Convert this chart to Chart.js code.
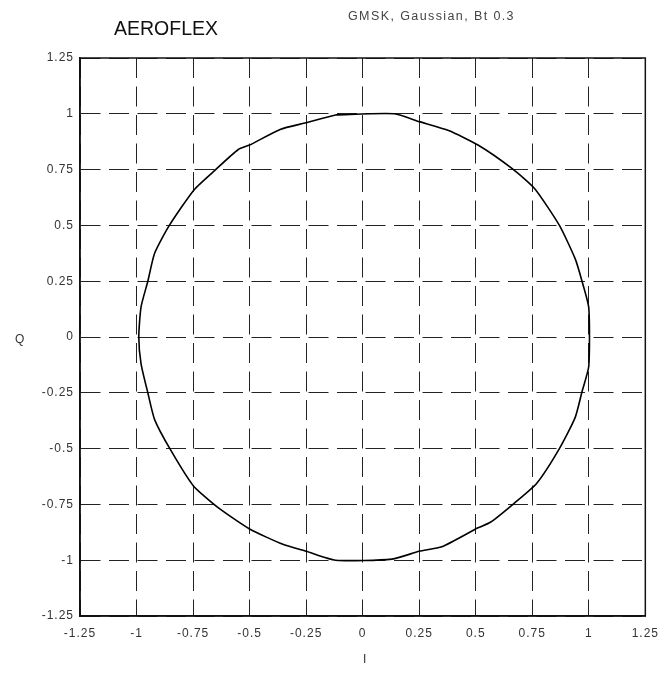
<!DOCTYPE html>
<html>
<head>
<meta charset="utf-8">
<script src="https://cdn.jsdelivr.net/npm/chart.js@4.4.1/dist/chart.umd.min.js"></script>
<style>
  html, body { margin: 0; padding: 0; background: #fff; }
  #wrap { position: relative; width: 667px; height: 689px; font-family: "Liberation Sans", Arial, sans-serif; }
  #wrap canvas { position: absolute; left: 0; top: 0; }
  .txt { position: absolute; color: #333; white-space: nowrap; }
  #logo { left: 114px; top: 19px; font-size: 19.5px; line-height: 19.5px; color: #111; }
  #title { left: 348px; top: 9px; font-size: 12.5px; letter-spacing: 1.4px; color: #444; }
  #qlab { left: 15px; top: 332px; font-size: 12px; }
  #ilab { left: 363px; top: 652px; font-size: 12px; }
</style>
</head>
<body>
<div id="wrap">
  <canvas id="iqChart" width="667" height="689"></canvas>
  <div class="txt" id="logo">AEROFLEX</div>
  <div class="txt" id="title">GMSK, Gaussian, Bt 0.3</div>
  <div class="txt" id="qlab">Q</div>
  <div class="txt" id="ilab">I</div>
</div>
<script>
// trajectory points (I, Q), going round clockwise from the top
const iValues = [-0.12, 0.14, 0.25, 0.38, 0.51, 0.66, 0.76, 0.87, 0.94, 0.97, 1.0,
  1.0, 0.97, 0.94, 0.87, 0.77, 0.67, 0.565, 0.51, 0.35, 0.25, 0.13,
  -0.12, -0.25, -0.35, -0.5, -0.645, -0.75, -0.85, -0.92, -0.95, -0.98,
  -0.99, -0.98, -0.95, -0.92, -0.855, -0.745, -0.65, -0.55, -0.5, -0.365, -0.25, -0.12];
const qValues = [0.995, 1.0, 0.965, 0.925, 0.86, 0.755, 0.665, 0.5, 0.35, 0.25, 0.13,
  -0.13, -0.245, -0.36, -0.5, -0.655, -0.745, -0.83, -0.855, -0.94, -0.96, -0.995,
  -1.0, -0.96, -0.93, -0.86, -0.76, -0.665, -0.505, -0.37, -0.25, -0.12,
  0.0, 0.135, 0.25, 0.375, 0.5, 0.66, 0.75, 0.84, 0.86, 0.93, 0.96, 0.995];

const tickValues = [-1.25, -1, -0.75, -0.5, -0.25, 0, 0.25, 0.5, 0.75, 1, 1.25];
const tickLabels = ['-1.25', '-1', '-0.75', '-0.5', '-0.25', '0', '0.25', '0.5', '0.75', '1', '1.25'];

const points = iValues.map((v, i) => ({ x: v, y: qValues[i] }));
points.push(points[0]);

// wider tick text, and a solid frame round the plot area
const framePlugin = {
  id: 'frame',
  beforeDraw(chart) {
    chart.ctx.letterSpacing = '1px';
  },
  afterDraw(chart) {
    const { ctx, chartArea: a } = chart;
    ctx.letterSpacing = '0px';
    ctx.save();
    ctx.strokeStyle = '#111';
    ctx.lineWidth = 1.5;
    ctx.strokeRect(a.left, a.top, a.right - a.left, a.bottom - a.top);
    ctx.restore();
  }
};

const axisOpts = (isX) => ({
  type: 'linear',
  min: -1.25,
  max: 1.25,
  afterBuildTicks: (scale) => { scale.ticks = tickValues.map(v => ({ value: v })); },
  afterFit: (scale) => { if (isX) scale.height = 40; else scale.width = 80; },
  ticks: {
    callback: (v, i) => tickLabels[i],
    color: '#333',
    font: { family: '"Liberation Sans", Arial, sans-serif', size: 12 },
    padding: isX ? 10 : 6,
    maxRotation: 0,
    autoSkip: false
  },
  grid: {
    color: '#222',
    lineWidth: 1,
    drawTicks: false
  },
  border: {
    display: true,
    color: '#111',
    width: 1.5,
    dash: [20, 8.5]
  }
});

new Chart(document.getElementById('iqChart'), {
  type: 'scatter',
  data: {
    datasets: [{
      data: points,
      showLine: true,
      borderColor: '#000',
      borderWidth: 1.6,
      pointRadius: 0,
      tension: 0.2
    }]
  },
  options: {
    responsive: false,
    animation: false,
    layout: { padding: { top: 58, right: 17, bottom: 33, left: 0 } },
    plugins: { legend: { display: false }, tooltip: { enabled: false } },
    scales: {
      x: axisOpts(true),
      y: axisOpts(false)
    }
  },
  plugins: [framePlugin]
});
</script>
</body>
</html>
